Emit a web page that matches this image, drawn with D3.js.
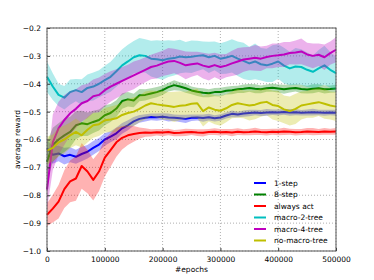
<!DOCTYPE html>
<html>
<head>
<meta charset="utf-8">
<script src="https://cdn.jsdelivr.net/npm/d3@7"></script>
<style>
  body { margin: 0; background: #fff; }
  svg { display: block; font-family: "DejaVu Sans", sans-serif; }
</style>
</head>
<body>
<div id="chart"></div>
<script>
// epochs sampled every 10000
const epochs = d3.range(0, 500001, 10000);

const xTicks = [0, 100000, 200000, 300000, 400000, 500000];
const yTicks = [-1.0, -0.9, -0.8, -0.7, -0.6, -0.5, -0.4, -0.3, -0.2];

const seriesNames = ["1-step", "8-step", "always act", "macro-2-tree", "macro-4-tree", "no-macro-tree"];
const seriesColors = ["#0000ff", "#008000", "#ff0000", "#00bfbf", "#bf00bf", "#bfbf00"];

const oneStep = [-0.632, -0.655, -0.650, -0.660, -0.655, -0.662, -0.652, -0.644, -0.630, -0.618,
  -0.600, -0.590, -0.578, -0.560, -0.549, -0.535, -0.526, -0.522, -0.519, -0.520,
  -0.518, -0.521, -0.522, -0.524, -0.526, -0.522, -0.521, -0.523, -0.520, -0.524,
  -0.521, -0.514, -0.508, -0.510, -0.507, -0.505, -0.503, -0.505, -0.503, -0.502,
  -0.503, -0.501, -0.503, -0.502, -0.504, -0.503, -0.502, -0.503, -0.504, -0.503, -0.504];
const oneStepSpread = [0.030, 0.032, 0.028, 0.030, 0.027, 0.025, 0.026, 0.024, 0.025, 0.023,
  0.022, 0.020, 0.021, 0.019, 0.018, 0.016, 0.014, 0.013, 0.012, 0.013,
  0.012, 0.014, 0.012, 0.013, 0.015, 0.012, 0.011, 0.013, 0.012, 0.011,
  0.012, 0.011, 0.012, 0.010, 0.011, 0.012, 0.010, 0.011, 0.012, 0.010,
  0.011, 0.010, 0.012, 0.011, 0.010, 0.011, 0.012, 0.010, 0.011, 0.010, 0.011];

const eightStep = [-0.680, -0.620, -0.600, -0.585, -0.573, -0.549, -0.542, -0.545, -0.537, -0.530,
  -0.513, -0.505, -0.489, -0.462, -0.456, -0.460, -0.441, -0.440, -0.435, -0.430,
  -0.423, -0.412, -0.405, -0.410, -0.416, -0.424, -0.429, -0.432, -0.434, -0.430,
  -0.430, -0.425, -0.423, -0.420, -0.418, -0.415, -0.418, -0.420, -0.416, -0.414,
  -0.417, -0.420, -0.417, -0.415, -0.419, -0.421, -0.418, -0.416, -0.420, -0.419, -0.417];
const eightStepSpread = [0.070, 0.062, 0.058, 0.060, 0.055, 0.050, 0.045, 0.042, 0.040, 0.038,
  0.036, 0.032, 0.030, 0.028, 0.026, 0.024, 0.022, 0.020, 0.019, 0.018,
  0.017, 0.016, 0.018, 0.015, 0.016, 0.014, 0.015, 0.016, 0.014, 0.015,
  0.016, 0.014, 0.015, 0.013, 0.015, 0.014, 0.016, 0.014, 0.013, 0.015,
  0.014, 0.016, 0.014, 0.013, 0.015, 0.014, 0.016, 0.014, 0.015, 0.013, 0.014];

const alwaysAct = [-0.870, -0.848, -0.823, -0.778, -0.750, -0.740, -0.695, -0.715, -0.745, -0.715,
  -0.665, -0.638, -0.610, -0.594, -0.585, -0.580, -0.577, -0.575, -0.576, -0.574,
  -0.575, -0.573, -0.577, -0.576, -0.574, -0.573, -0.575, -0.576, -0.573, -0.572,
  -0.574, -0.573, -0.575, -0.572, -0.574, -0.573, -0.571, -0.573, -0.574, -0.572,
  -0.573, -0.571, -0.572, -0.574, -0.573, -0.571, -0.572, -0.573, -0.571, -0.572, -0.571];
const alwaysActSpread = [0.040, 0.050, 0.060, 0.068, 0.075, 0.080, 0.082, 0.078, 0.074, 0.070,
  0.068, 0.060, 0.052, 0.042, 0.035, 0.028, 0.020, 0.015, 0.013, 0.012,
  0.013, 0.012, 0.011, 0.012, 0.013, 0.011, 0.012, 0.013, 0.011, 0.012,
  0.012, 0.011, 0.013, 0.012, 0.011, 0.012, 0.013, 0.011, 0.012, 0.011,
  0.012, 0.013, 0.011, 0.012, 0.011, 0.012, 0.013, 0.011, 0.012, 0.011, 0.012];

const macro2 = [-0.375, -0.410, -0.440, -0.450, -0.430, -0.423, -0.430, -0.415, -0.410, -0.400,
  -0.387, -0.375, -0.355, -0.334, -0.320, -0.305, -0.298, -0.300, -0.310, -0.312,
  -0.316, -0.310, -0.308, -0.302, -0.305, -0.303, -0.300, -0.298, -0.305, -0.300,
  -0.310, -0.306, -0.300, -0.310, -0.318, -0.327, -0.320, -0.330, -0.334, -0.328,
  -0.320, -0.335, -0.345, -0.338, -0.340, -0.350, -0.357, -0.345, -0.334, -0.350, -0.362];
const macro2Spread = [0.055, 0.048, 0.040, 0.042, 0.045, 0.040, 0.046, 0.048, 0.050, 0.048,
  0.052, 0.054, 0.056, 0.058, 0.060, 0.058, 0.062, 0.060, 0.064, 0.068,
  0.070, 0.066, 0.062, 0.060, 0.055, 0.058, 0.054, 0.050, 0.056, 0.052,
  0.055, 0.058, 0.060, 0.062, 0.065, 0.060, 0.064, 0.058, 0.060, 0.066,
  0.062, 0.064, 0.060, 0.066, 0.064, 0.062, 0.058, 0.066, 0.070, 0.064, 0.060];

const macro4 = [-0.780, -0.610, -0.560, -0.530, -0.506, -0.490, -0.470, -0.462, -0.445, -0.440,
  -0.423, -0.410, -0.400, -0.390, -0.380, -0.370, -0.360, -0.350, -0.340, -0.335,
  -0.327, -0.320, -0.318, -0.325, -0.334, -0.330, -0.327, -0.335, -0.340, -0.333,
  -0.340, -0.335, -0.327, -0.320, -0.313, -0.310, -0.307, -0.310, -0.304, -0.300,
  -0.298, -0.295, -0.290, -0.288, -0.284, -0.295, -0.300, -0.296, -0.305, -0.290, -0.278];
const macro4Spread = [0.070, 0.100, 0.095, 0.090, 0.080, 0.070, 0.065, 0.062, 0.060, 0.062,
  0.058, 0.055, 0.052, 0.050, 0.048, 0.050, 0.046, 0.045, 0.044, 0.046,
  0.045, 0.048, 0.044, 0.046, 0.050, 0.045, 0.042, 0.046, 0.048, 0.044,
  0.046, 0.042, 0.045, 0.048, 0.044, 0.042, 0.046, 0.044, 0.040, 0.044,
  0.042, 0.045, 0.040, 0.043, 0.046, 0.042, 0.044, 0.040, 0.046, 0.042, 0.045];

const noMacro = [-0.640, -0.630, -0.610, -0.600, -0.585, -0.573, -0.585, -0.565, -0.549, -0.545,
  -0.531, -0.528, -0.524, -0.512, -0.505, -0.500, -0.490, -0.478, -0.470, -0.474,
  -0.477, -0.480, -0.483, -0.479, -0.477, -0.472, -0.470, -0.498, -0.485, -0.493,
  -0.497, -0.488, -0.476, -0.470, -0.474, -0.478, -0.475, -0.468, -0.465, -0.476,
  -0.480, -0.492, -0.498, -0.490, -0.478, -0.474, -0.470, -0.466, -0.472, -0.478, -0.482];
const noMacroSpread = [0.050, 0.048, 0.052, 0.050, 0.046, 0.048, 0.044, 0.046, 0.045, 0.042,
  0.044, 0.046, 0.048, 0.045, 0.050, 0.052, 0.048, 0.050, 0.046, 0.048,
  0.052, 0.050, 0.054, 0.052, 0.048, 0.050, 0.053, 0.055, 0.050, 0.052,
  0.054, 0.050, 0.048, 0.052, 0.050, 0.054, 0.052, 0.050, 0.048, 0.052,
  0.054, 0.050, 0.052, 0.054, 0.050, 0.048, 0.052, 0.050, 0.054, 0.050, 0.052];

const seriesValues = [oneStep, eightStep, alwaysAct, macro2, macro4, noMacro];
const seriesSpreads = [oneStepSpread, eightStepSpread, alwaysActSpread, macro2Spread, macro4Spread, noMacroSpread];

const width = 374;
const height = 280;
const margin = { top: 28, right: 38, bottom: 29, left: 47 };

const svg = d3.select("#chart").append("svg")
  .attr("width", width)
  .attr("height", height);

const x = d3.scaleLinear()
  .domain([0, 500000])
  .range([margin.left, width - margin.right]);

const y = d3.scaleLinear()
  .domain([-1.0, -0.2])
  .range([height - margin.bottom, margin.top]);

// grid
const grid = svg.append("g")
  .attr("stroke", "#9a9a9a")
  .attr("stroke-width", 0.8)
  .attr("stroke-dasharray", "1,2");

grid.selectAll("line.vx")
  .data(xTicks)
  .join("line")
  .attr("x1", d => x(d)).attr("x2", d => x(d))
  .attr("y1", margin.top).attr("y2", height - margin.bottom);

grid.selectAll("line.hy")
  .data(yTicks)
  .join("line")
  .attr("y1", d => y(d)).attr("y2", d => y(d))
  .attr("x1", margin.left).attr("x2", width - margin.right);

const plot = svg.append("g");

const area = d3.area()
  .x((d, i) => x(epochs[i]))
  .y0(d => y(d[0] - d[1]))
  .y1(d => y(d[0] + d[1]));

const line = d3.line()
  .x((d, i) => x(epochs[i]))
  .y(d => y(d));

seriesValues.forEach((values, s) => {
  const bandData = values.map((v, i) => [v, seriesSpreads[s][i]]);

  plot.append("path")
    .datum(bandData)
    .attr("fill", seriesColors[s])
    .attr("fill-opacity", 0.3)
    .attr("d", area);

  plot.append("path")
    .datum(values)
    .attr("fill", "none")
    .attr("stroke", seriesColors[s])
    .attr("stroke-width", 2)
    .attr("stroke-linejoin", "round")
    .attr("d", line);
});

// axes
const xAxis = d3.axisBottom(x)
  .tickValues(xTicks)
  .tickFormat(d3.format("d"))
  .tickSizeInner(-3)
  .tickSizeOuter(0)
  .tickPadding(6);

const yAxis = d3.axisLeft(y)
  .tickValues(yTicks)
  .tickFormat(d3.format(".1f"))
  .tickSizeInner(-3)
  .tickSizeOuter(0)
  .tickPadding(6);

const gx = svg.append("g")
  .attr("transform", `translate(0,${height - margin.bottom})`)
  .call(xAxis);

const gy = svg.append("g")
  .attr("transform", `translate(${margin.left},0)`)
  .call(yAxis);

[gx, gy].forEach(g => {
  g.select(".domain").remove();
  g.selectAll(".tick line").attr("stroke", "#333");
  g.selectAll("text")
    .attr("fill", "#000")
    .style("font-size", "7.5px")
    .style("font-family", "'DejaVu Sans', sans-serif");
});

// frame
svg.append("rect")
  .attr("x", margin.left)
  .attr("y", margin.top)
  .attr("width", width - margin.left - margin.right)
  .attr("height", height - margin.top - margin.bottom)
  .attr("fill", "none")
  .attr("stroke", "#555")
  .attr("stroke-width", 1);

// axis labels
svg.append("text")
  .attr("x", (margin.left + width - margin.right) / 2)
  .attr("y", 272)
  .attr("text-anchor", "middle")
  .style("font-size", "7.5px")
  .text("#epochs");

svg.append("text")
  .attr("transform", `translate(20,${(margin.top + height - margin.bottom) / 2}) rotate(-90)`)
  .attr("text-anchor", "middle")
  .style("font-size", "7.5px")
  .text("average reward");

// legend
const legend = svg.append("g")
  .attr("transform", "translate(254,183)");

const legendRow = legend.selectAll("g")
  .data(seriesNames)
  .join("g")
  .attr("transform", (d, i) => `translate(0,${i * 11.5})`);

legendRow.append("line")
  .attr("x1", 0).attr("x2", 12)
  .attr("y1", 0).attr("y2", 0)
  .attr("stroke", (d, i) => seriesColors[i])
  .attr("stroke-width", 2);

legendRow.append("text")
  .attr("x", 20)
  .attr("y", 0)
  .attr("dy", "0.35em")
  .style("font-size", "7.5px")
  .text(d => d);
</script>
</body>
</html>
